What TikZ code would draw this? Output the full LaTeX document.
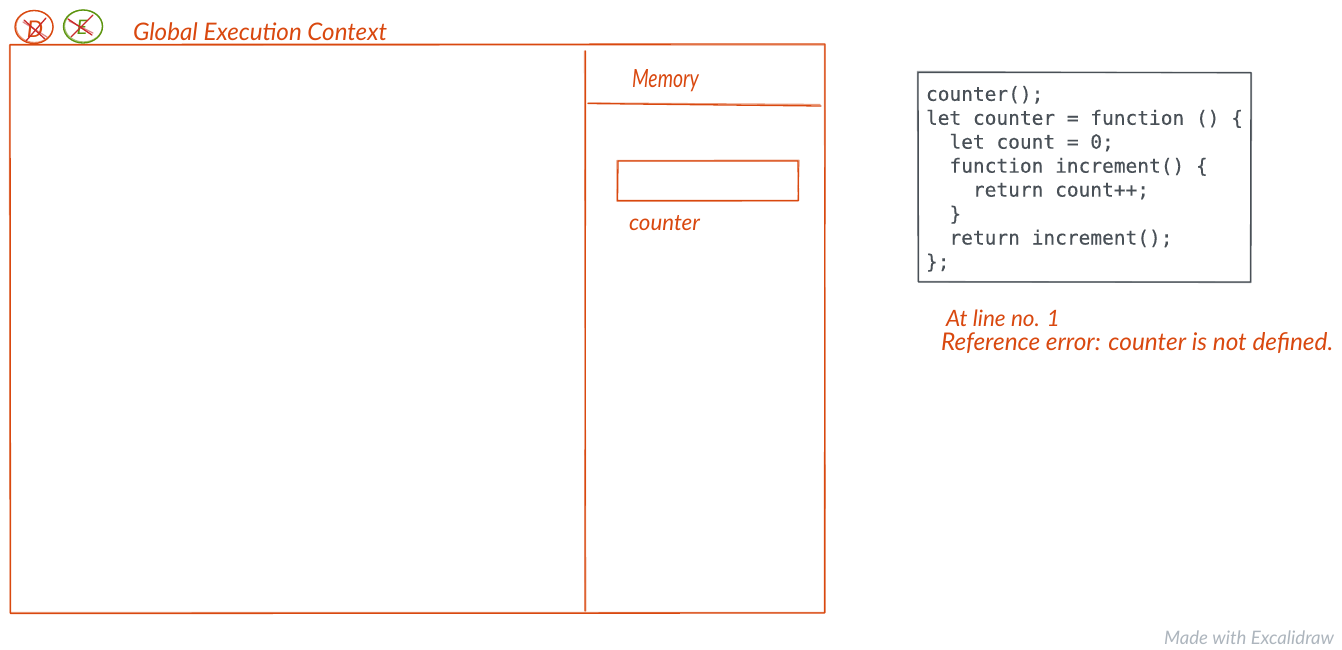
\documentclass[tikz,border=0pt]{standalone}
\usepackage{fontspec}
\usepackage{graphicx}
\setmainfont{Lato}
\setmonofont[FakeBold=0.25]{DejaVu Sans Mono}
\definecolor{inkorange}{HTML}{D9480F}
\definecolor{inkgreen}{HTML}{5C940D}
\definecolor{inkred}{HTML}{C92A2A}
\definecolor{inkgray}{HTML}{495057}
\definecolor{wmgray}{HTML}{ADB5BD}
\tikzset{
  firststroke/.style={line width=1.3pt,line cap=round,line join=round},
  secondstroke/.style={line width=1.3pt,line cap=round,line join=round,opacity=.55},
  hand/.style={anchor=base west,inner sep=0pt,outer sep=0pt,text=inkorange,font=\itshape\fontsize{19}{19}\selectfont},
  code/.style={anchor=north west,inner sep=0pt,outer sep=0pt,align=left,text=inkgray,font=\ttfamily\fontsize{19.5}{23.95}\selectfont},
}
\newcommand{\fitw}[2]{\resizebox{#1pt}{!}{#2}}
\newcommand{\fitwh}[3]{\resizebox{#1pt}{#2pt}{#3}}
\begin{document}
\begin{tikzpicture}[x=1pt,y=-1pt]
\useasboundingbox[fill=white] (0,0) rectangle (1342,649);
% frame
\draw[firststroke,inkorange] (10,44.5) -- (825,44) -- (824.5,613) -- (10.5,613.5) -- cycle;
\draw[secondstroke,inkorange] (9.5,45.2) -- (824.5,45) -- (825.3,612.5) -- (10,612.6) -- cycle;
% divider
\draw[firststroke,inkorange] (585.5,51) -- (585,611);
\draw[secondstroke,inkorange] (584.6,51) -- (585.7,611);
% memory rule
\draw[firststroke,inkorange] (588,103.5) -- (821,106);
\draw[secondstroke,inkorange] (588,103) -- (820,104.5);
% counter box
\draw[firststroke,inkorange] (618,161) -- (798,161) -- (798.5,200.5) -- (617.5,200.5) -- cycle;
\draw[secondstroke,inkorange] (617,160.5) -- (799,160.3) -- (798,201) -- (617,201.3) -- cycle;
% code box
\draw[firststroke,inkgray] (918,72.5) -- (1251,72.5) -- (1250.5,282) -- (918.5,282) -- cycle;
\draw[secondstroke,inkgray] (917.5,71.5) -- (1251.5,73) -- (1251,282.5) -- (918,281.5) -- cycle;
% D badge
\draw[firststroke,inkorange] (34,27) ellipse [x radius=19,y radius=16.5];
\draw[secondstroke,inkorange] (34.5,26.5) ellipse [x radius=18.5,y radius=16];
\node[anchor=center,inner sep=0pt,text=inkorange,font=\itshape\fontsize{23}{23}\selectfont] (dlabel) at (35,29) {D};
\draw[firststroke,inkred] (24,20) -- (45,39);
\draw[firststroke,inkred] (46,18) -- (26,41);
\draw[secondstroke,inkred] (23,22) -- (47,37);
% E badge
\draw[firststroke,inkgreen] (83,26.5) ellipse [x radius=19.5,y radius=16.5];
\draw[secondstroke,inkgreen] (83.5,26) ellipse [x radius=19,y radius=16];
\node[anchor=center,inner sep=0pt,text=inkgreen,font=\itshape\fontsize{20}{20}\selectfont] (elabel) at (82,27) {E};
\draw[firststroke,inkred] (68,19) -- (92,35);
\draw[firststroke,inkred] (93,15) -- (71,37);
\draw[secondstroke,inkred] (69,21) -- (93,33);
% labels
\node[hand] (title) at (133,40) {\fitw{254}{Global Execution Context}};
\node[hand] (memory) at (632,87.5) {\fitwh{67}{18}{Memory}};
\node[hand] (counterlabel) at (629,230) {\fitw{71}{counter}};
\node[hand] (atline) at (946,326) {\fitw{114}{At line no. 1}};
\node[hand] (referr) at (941,350) {\fitw{392}{Reference error: counter is not defined.}};
\node[hand,text=wmgray] (madewith) at (1164,644) {\fitw{170}{Made with Excalidraw}};
% code
\node[code] (codeblock) at (926,86) {counter();\\
let counter = function () \{\\
\ \ let count = 0;\\
\ \ function increment() \{\\
\ \ \ \ return count++;\\
\ \ \}\\
\ \ return increment();\\
\};};
\end{tikzpicture}
\end{document}
